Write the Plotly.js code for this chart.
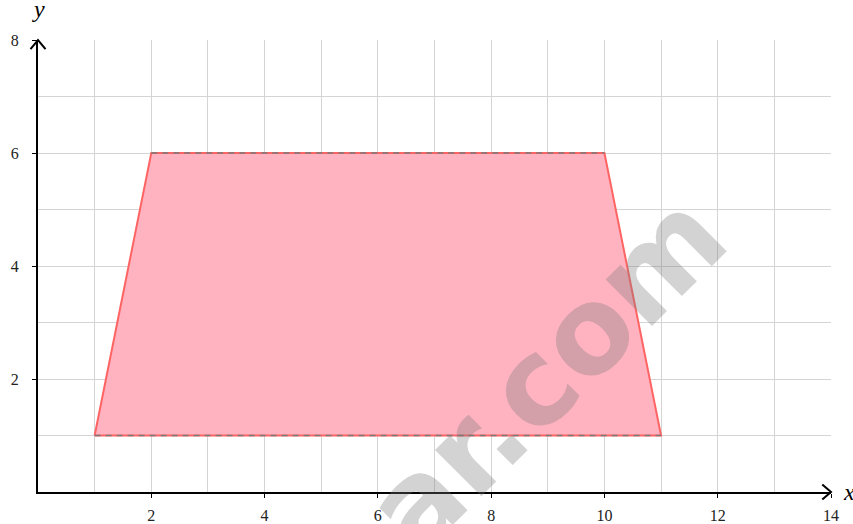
<!DOCTYPE html>
<html>
<head>
<meta charset="utf-8">
<script src="https://cdn.plot.ly/plotly-3.0.1.min.js"></script>
<style>html,body{margin:0;padding:0;background:#fff;}#chart{width:853px;height:524px;}</style>
</head>
<body>
<div id="chart"></div>
<script>
// Trapezoid vertices (closed)
const vertexX = [1, 2, 10, 11, 1];
const vertexY = [1, 6, 6, 1, 1];
// Parallel sides (drawn dashed)
const topEdgeX = [2, 10];
const topEdgeY = [6, 6];
const bottomEdgeX = [1, 11];
const bottomEdgeY = [1, 1];
// Tick labels
const xTickVals = [2, 4, 6, 8, 10, 12, 14];
const yTickVals = [2, 4, 6, 8];

const serif = "'Liberation Serif', 'DejaVu Serif', serif";
const gridCol = '#d4d4d4';

const traces = [
  {x: vertexX, y: vertexY, mode: 'lines', fill: 'toself', fillcolor: '#ffb3c0',
   line: {color: '#ff6464', width: 2}, hoverinfo: 'skip', showlegend: false},
  {x: topEdgeX, y: topEdgeY, mode: 'lines', line: {color: '#7a7a7a', width: 1.6, dash: '6px,5px'},
   hoverinfo: 'skip', showlegend: false},
  {x: bottomEdgeX, y: bottomEdgeY, mode: 'lines', line: {color: '#7a7a7a', width: 1.6, dash: '6px,5px'},
   hoverinfo: 'skip', showlegend: false}
];

const axisCommon = {
  showgrid: true, gridcolor: gridCol, gridwidth: 1,
  zeroline: false, showline: true, linecolor: '#000', linewidth: 2,
  ticks: 'outside', ticklen: 4, tickcolor: '#000', tickwidth: 1,
  tickfont: {family: serif, size: 16, color: '#222'},
  minor: {dtick: 1, tick0: 0, showgrid: true, gridcolor: gridCol, gridwidth: 1, ticks: ''},
  fixedrange: true
};

const layout = {
  width: 853, height: 524,
  margin: {l: 38, r: 22, t: 40, b: 32, pad: 0},
  paper_bgcolor: '#fff', plot_bgcolor: '#fff',
  xaxis: Object.assign({}, axisCommon, {range: [0, 14], tickmode: 'array', tickvals: xTickVals,
    ticktext: xTickVals.map(String), ticklabelstandoff: 4}),
  yaxis: Object.assign({}, axisCommon, {range: [0, 8], tickmode: 'array', tickvals: yTickVals,
    ticktext: yTickVals.map(String), ticklabelstandoff: 10}),
  shapes: [
    {type: 'path', xref: 'paper', yref: 'paper', path: 'M 0.989 0.0165 L 1.0 0 L 0.989 -0.0165',
     line: {color: '#000', width: 2}},
    {type: 'path', xref: 'paper', yref: 'paper', path: 'M -0.0095 0.980 L 0 1 L 0.0095 0.980',
     line: {color: '#000', width: 2}}
  ],
  annotations: [
    {xref: 'paper', yref: 'paper', x: 1.012, y: 0, xanchor: 'left', yanchor: 'middle',
     text: '<i>x</i>', showarrow: false, font: {family: serif, size: 24, color: '#000'}},
    {xref: 'paper', yref: 'paper', x: 0, y: 1.035, xanchor: 'center', yanchor: 'bottom',
     text: '<i>y</i>', showarrow: false, font: {family: serif, size: 24, color: '#000'}},
    {xref: 'paper', yref: 'paper', x: 0.640, y: 0.263, xanchor: 'center', yanchor: 'middle',
     text: '<b>ar.com</b>', textangle: -45, showarrow: false,
     font: {family: "'DejaVu Sans', sans-serif", size: 120, color: 'rgba(122,122,122,0.33)'}}
  ]
};

Plotly.newPlot('chart', traces, layout, {displayModeBar: false, staticPlot: true});
</script>
</body>
</html>
